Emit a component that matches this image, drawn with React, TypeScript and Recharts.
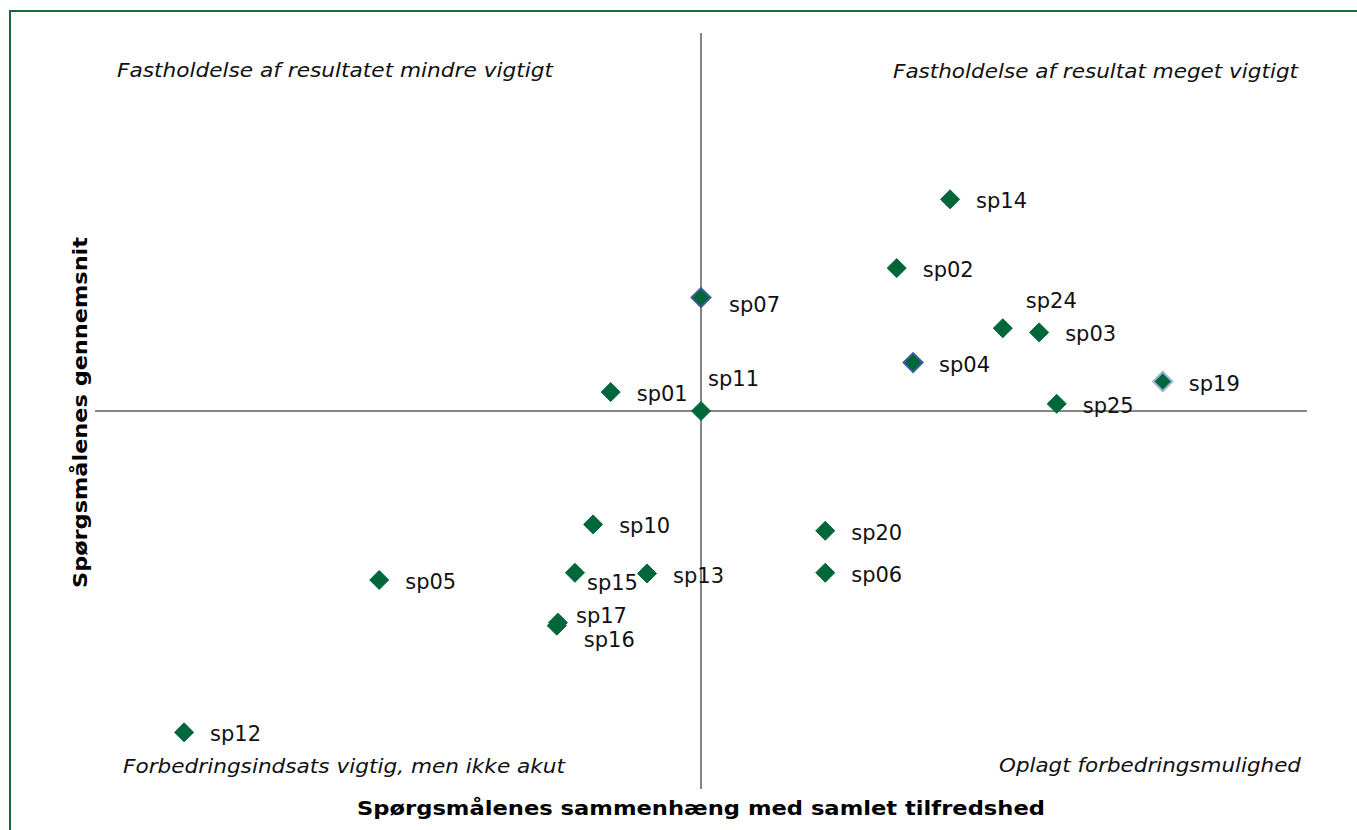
import React from 'react'
import { ScatterChart, Scatter, XAxis, YAxis, ReferenceLine, Customized } from 'recharts'

// question ids, correlation with overall satisfaction (centred), average score (centred)
const questions = ['sp14', 'sp02', 'sp07', 'sp24', 'sp03', 'sp04', 'sp19', 'sp01', 'sp11', 'sp25', 'sp10', 'sp20', 'sp05', 'sp15', 'sp13', 'sp06', 'sp17', 'sp16', 'sp12']
const correlation = [4.11, 3.23, 0, 4.98, 5.58, 3.5, 7.62, -1.49, 0, 5.87, -1.78, 2.05, -5.31, -2.08, -0.89, 2.05, -2.36, -2.38, -8.53]
const average = [5.6, 3.78, 3.0, 2.19, 2.08, 1.28, 0.78, 0.5, 0, 0.19, -3.0, -3.17, -4.47, -4.28, -4.3, -4.28, -5.6, -5.68, -8.5]

const quadrantTitles = [
  'Fastholdelse af resultatet mindre vigtigt',
  'Fastholdelse af resultat meget vigtigt',
  'Forbedringsindsats vigtig, men ikke akut',
  'Oplagt forbedringsmulighed',
]
const xTitle = 'Spørgsmålenes sammenhæng med samlet tilfredshed'
const yTitle = 'Spørgsmålenes gennemsnit'

const data = questions.map((name, i) => ({ name, x: correlation[i], y: average[i] }))

const GREEN = '#00673a'
const FONT = '"DejaVu Sans", Verdana, sans-serif'

// some markers have an outline in the original
const outline: Record<string, string> = { sp07: '#3e5c9c', sp04: '#3e5c9c', sp19: '#98afd6' }
// label nudges where the default (right of the marker) would collide
const labelNudge: Record<string, [number, number]> = {
  sp07: [28, 7],
  sp11: [7, -32],
  sp24: [23, -27],
  sp15: [12, 10],
  sp17: [18, -7],
  sp16: [27, 14],
}

function Diamond(props: any) {
  const { cx, cy, payload } = props
  const r = 9.5
  const [dx, dy] = labelNudge[payload.name] ?? [26, 2]
  const stroke = outline[payload.name]
  return (
    <g>
      <polygon
        points={`${cx},${cy - r} ${cx + r},${cy} ${cx},${cy + r} ${cx - r},${cy}`}
        fill={GREEN}
        stroke={stroke ?? GREEN}
        strokeWidth={stroke ? 2 : 1}
      />
      <text x={cx + dx} y={cy + dy} dominantBaseline="central" fontFamily={FONT} fontSize={21} fill="#111">
        {payload.name}
      </text>
    </g>
  )
}

function Annotations() {
  const italic = { fontFamily: FONT, fontSize: 20, fontStyle: 'italic' as const, fill: '#111', lengthAdjust: 'spacingAndGlyphs' as const }
  const bold = { fontFamily: FONT, fontSize: 20, fontWeight: 700, fill: '#000', lengthAdjust: 'spacingAndGlyphs' as const }
  return (
    <g>
      <text x={117} y={70} dominantBaseline="central" textLength={436} {...italic}>{quadrantTitles[0]}</text>
      <text x={893} y={71} dominantBaseline="central" textLength={405} {...italic}>{quadrantTitles[1]}</text>
      <text x={123} y={766} dominantBaseline="central" textLength={442} {...italic}>{quadrantTitles[2]}</text>
      <text x={999} y={765} dominantBaseline="central" textLength={302} {...italic}>{quadrantTitles[3]}</text>
      <text x={357} y={808} dominantBaseline="central" textLength={688} {...bold}>{xTitle}</text>
      <text x={80} y={588} dominantBaseline="central" textLength={351} transform="rotate(-90 80 588)" {...bold}>{yTitle}</text>
    </g>
  )
}

export default function App() {
  return (
    <div style={{ position: 'absolute', left: 0, top: 0, width: 1357, height: 830, overflow: 'hidden', background: '#fff' }}>
      <div style={{ position: 'absolute', left: 9, top: 10, width: 1400, height: 900, borderTop: '2px solid #17693a', borderLeft: '2px solid #17693a' }} />
      <div style={{ position: 'absolute', left: 0, top: 0 }}>
        <ScatterChart width={1357} height={830} margin={{ top: 33, right: 50, bottom: 41, left: 95 }}>
          <XAxis type="number" dataKey="x" domain={[-10, 10]} hide />
          <YAxis type="number" dataKey="y" domain={[-10, 10]} hide />
          <ReferenceLine x={0} stroke="#868686" strokeWidth={2} />
          <ReferenceLine y={0} stroke="#868686" strokeWidth={2} />
          <Scatter data={data} shape={Diamond} isAnimationActive={false} />
          <Customized component={Annotations} />
        </ScatterChart>
      </div>
    </div>
  )
}
